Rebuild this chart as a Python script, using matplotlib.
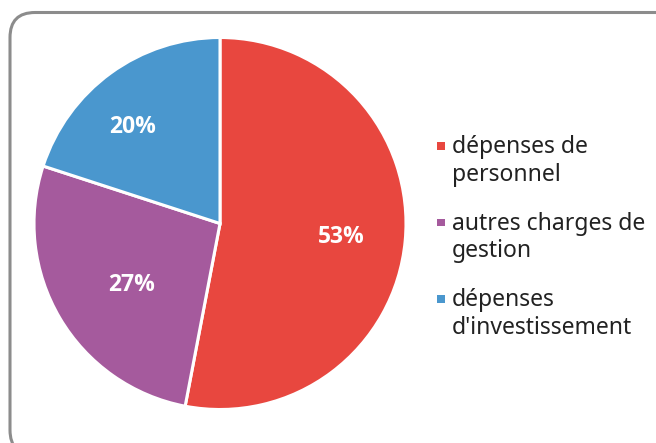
import matplotlib
matplotlib.use("Agg")
import matplotlib.pyplot as plt
from matplotlib.patches import FancyBboxPatch, Rectangle
import numpy as np

categories = ["dépenses de\npersonnel", "autres charges de\ngestion", "dépenses\nd'investissement"]
values = [53, 27, 20]
colors = ["#E8473F", "#A55A9D", "#4A97CE"]

plt.rcParams['font.family'] = ['Noto Sans', 'DejaVu Sans']

W, H = 656, 443
fig = plt.figure(figsize=(W / 100, H / 100), dpi=100)

# rounded border (pixel coordinates)
border = FancyBboxPatch((10, H - 455), 680, 455 - 12.5,
                        boxstyle="round,pad=0,rounding_size=25",
                        transform=None, facecolor="none",
                        edgecolor="#8C8C8C", linewidth=2.2, zorder=0)
fig.patches.append(border)

cx, cy, r = 220, 223.5, 186
ax = fig.add_axes([(cx - r) / W, (H - cy - r) / H, 2 * r / W, 2 * r / H])
wedges, texts, autotexts = ax.pie(values, colors=colors, startangle=90, counterclock=False,
                                  autopct=lambda p: f"{p:.0f}%", pctdistance=0.65,
                                  wedgeprops=dict(edgecolor="white", linewidth=2.2),
                                  textprops=dict(color="white", fontsize=16.5, fontweight="bold",
                                                 family=["Open Sans", "DejaVu Sans"]))
ax.set_xlim(-1, 1)
ax.set_ylim(-1, 1)
ax.set_aspect("equal")
ax.axis("off")

# label placement tweaks (distance from centre, angle offset)
lab_r = [0.655, 0.58, 0.70]
lab_da = [-1.0, 4.0, 6.0]
for w, t, rr, da in zip(wedges, autotexts, lab_r, lab_da):
    th = np.deg2rad((w.theta1 + w.theta2) / 2 + da)
    t.set_position((rr * np.cos(th), rr * np.sin(th)))
    t.set_ha("center")
    t.set_va("center")

# legend drawn manually
first_y = 145
step = 76.5
for i, (lab, col) in enumerate(zip(categories, colors)):
    y = first_y + i * step
    fig.patches.append(Rectangle((437, H - y - 4.5), 7.5, 7.5, transform=None,
                                 facecolor=col, edgecolor="none"))
    fig.text(452 / W, 1 - (y - 10) / H, lab, transform=fig.transFigure,
             fontsize=16.5, color="#222222", ha="left", va="top", linespacing=1.22)

fig.savefig("out.png", dpi=100)
